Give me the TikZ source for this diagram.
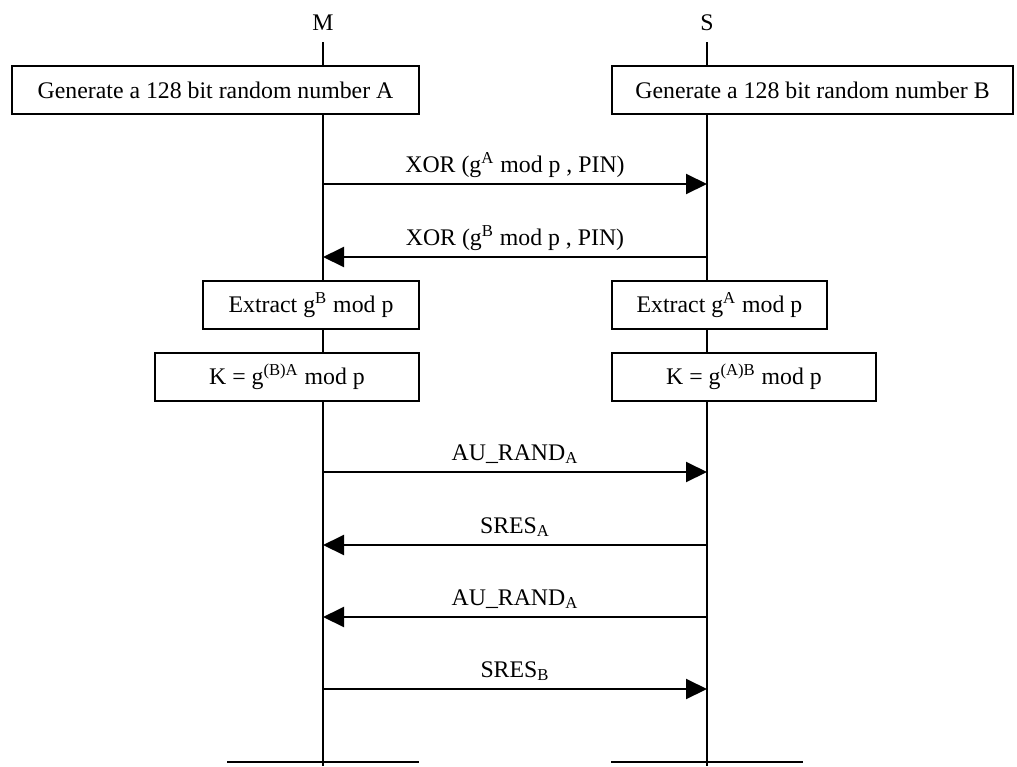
\documentclass[tikz,border=0pt]{standalone}
\usepackage{fontspec}
\setmainfont{Liberation Serif}
\usetikzlibrary{arrows.meta}
\begin{document}
\begin{tikzpicture}[x=0.5pt,y=-0.5pt,line width=0.9pt,
  txt/.style={font=\fontsize{11.9}{14}\selectfont},
  box/.style={txt,draw,fill=white,rectangle,minimum height=24pt,inner sep=0pt},
  party/.style={txt,anchor=base,inner sep=0pt},
  msg/.style={-{Triangle[length=10.5pt,width=10pt]},line width=1pt},
  lbl/.style={txt,anchor=base,inner sep=0pt},
  endline/.style={line width=1pt}]
\useasboundingbox (0,0) rectangle (1017,766);

% parties
\node[party] (M) at (323,30) {M};
\node[party] (S) at (707,30) {S};

% lifelines
\coordinate (mtop) at (323,42);
\coordinate (stop) at (707,42);
\coordinate (mbot) at (323,766);
\coordinate (sbot) at (707,766);
\draw (mtop) -- (mbot);
\draw (stop) -- (sbot);

% processing boxes
\node[box,minimum width=203.5pt] (genA) at (215.5,90) {Generate a 128 bit random number A};
\node[box,minimum width=200.5pt] (genB) at (812.5,90) {Generate a 128 bit random number B};
\node[box,minimum width=108pt] (extB) at (311,305) {Extract g\textsuperscript{B} mod p};
\node[box,minimum width=107.5pt] (extA) at (719.5,305) {Extract g\textsuperscript{A} mod p};
\node[box,minimum width=132pt] (keyM) at (287,377) {K = g\textsuperscript{(B)A} mod p};
\node[box,minimum width=132pt] (keyS) at (744,377) {K = g\textsuperscript{(A)B} mod p};

% message points on the lifelines
\foreach \n/\y in {1/184,2/257,3/472,4/545,5/617,6/689}{
  \coordinate (m\n) at (323,\y);
  \coordinate (s\n) at (707,\y);
}

% messages
\draw[msg] (m1) -- (s1);
\node[lbl] (l1) at (515,172) {XOR (g\textsuperscript{A} mod p , PIN)};
\draw[msg] (s2) -- (m2);
\node[lbl] (l2) at (515,245) {XOR (g\textsuperscript{B} mod p , PIN)};
\draw[msg] (m3) -- (s3);
\node[lbl] (l3) at (515,460) {AU\_RAND\textsubscript{A}};
\draw[msg] (s4) -- (m4);
\node[lbl] (l4) at (515,533) {SRES\textsubscript{A}};
\draw[msg] (s5) -- (m5);
\node[lbl] (l5) at (515,605) {AU\_RAND\textsubscript{A}};
\draw[msg] (m6) -- (s6);
\node[lbl] (l6) at (515,677) {SRES\textsubscript{B}};

% lifeline ends
\coordinate (me1) at (227,762);
\coordinate (me2) at (419,762);
\coordinate (se1) at (611,762);
\coordinate (se2) at (803,762);
\draw[endline] (me1) -- (me2);
\draw[endline] (se1) -- (se2);
\end{tikzpicture}
\end{document}
